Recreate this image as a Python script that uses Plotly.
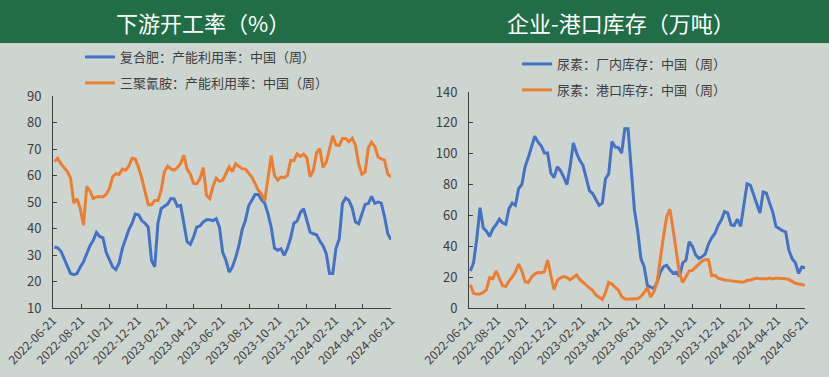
import pandas as pd
import plotly.graph_objects as go

# ---------------- data ----------------
dates = pd.date_range("2022-06-24", periods=105, freq="7D")

compound_fert = [33, 32.7, 31.5, 28.5, 26, 23, 22.6, 23, 25.5, 27.4, 30.5, 33.5, 35.5, 38.5, 37, 36.5,
                 31, 28, 25.5, 24.5, 27, 32.5, 36, 39.5, 42, 45.5, 45.2, 43, 42, 40.5, 28, 25.5, 42,
                 47.5, 48.4, 49.2, 51.3, 51.2, 48.4, 48.7, 42, 35, 34, 36.8, 40.6, 41, 42.5, 43.3,
                 43.3, 43, 43.7, 40.5, 31, 28, 23.5, 25.5, 29, 33.5, 39.5, 43, 48.5, 50.6, 52.8,
                 52.8, 50.8, 49.5, 45.5, 40.5, 32.6, 31.8, 32.4, 29.9, 32.5, 36.5, 42, 42.8, 46,
                 47.5, 42.5, 38.7, 38, 37.6, 35.3, 33.5, 30.5, 23, 23, 32.5, 36, 49.4, 51.5, 50.6,
                 47.8, 42.5, 41.8, 45.6, 49.1, 49.4, 52.1, 49.5, 50, 49.6, 44.5, 38, 35.8]

melamine = [65.3, 66.5, 64.5, 63, 61.5, 59, 49.6, 51.2, 47.5, 41.2, 55.9, 54.2, 51.3, 51.9, 52.1,
            51.9, 52.9, 55, 59.5, 60.7, 60.4, 62.4, 62, 63.5, 66.5, 66.2, 63, 59, 53.5, 49, 49,
            50.6, 50.6, 54.5, 61.5, 63.5, 62.5, 62, 63, 64.5, 67.6, 62.4, 60.5, 57, 56.9, 58.8,
            63, 52.5, 51.3, 56, 59, 57.8, 58.2, 60.5, 63.2, 61.5, 64.5, 63.5, 62.6, 62.4, 61,
            59.4, 57, 54.4, 53, 50.5, 59, 67.5, 60, 58.2, 59.4, 59.2, 60, 65.7, 65.7, 68.2, 67.2,
            68, 66.7, 59.5, 62, 68.5, 70.1, 63, 65, 70, 75, 71.5, 71.3, 74, 74, 72.8, 74, 71.5,
            64.5, 60.5, 61.3, 70.5, 72.6, 71, 67, 66.3, 65.8, 60.5, 59.4]

urea_factory = [24, 29.5, 45, 65, 52, 49.8, 46.4, 51.4, 54, 57.6, 55.3, 54.3, 64.4, 68, 66.6, 77.5,
                80, 91.5, 97.5, 104.5, 111.3, 107.6, 105.2, 100.5, 100.5, 87.5, 84.5, 91.5, 89,
                84.9, 80, 91.5, 107, 100.5, 95.7, 92.5, 83.8, 76, 74.2, 70, 66.5, 68, 83.8, 87,
                108, 104.3, 104, 100.5, 116.2, 116.2, 91.4, 63.3, 50, 32, 27, 14.7, 13.6, 12.5,
                16.5, 23, 26.8, 27.6, 24.8, 22.5, 23.2, 20.5, 29.2, 31, 43, 40, 34.5, 32.2, 33.2,
                35, 41.5, 45.5, 48.3, 53.5, 57, 62.5, 61.5, 54, 53.5, 57.5, 52.9, 65.5, 80.5, 79.7,
                73.5, 66.5, 61.5, 75.2, 74.5, 68, 62, 52.8, 51.3, 50.2, 49.3, 37.4, 32, 29.4, 22.5,
                26.6, 26.1]

urea_port = [15, 9.5, 9, 9, 10, 12, 19.7, 19, 24, 19.5, 14.5, 14, 17.5, 20, 23.5, 28.5, 24, 17,
             16.5, 20, 22, 23, 22.8, 23.5, 31, 21.2, 12, 17.9, 19.6, 20.4, 19.8, 18.2, 20, 21.5,
             18.5, 16.5, 14.8, 13, 11.5, 8.5, 7, 5.5, 10, 16.6, 15.5, 13.3, 11.5, 7.5, 6, 5.6, 6,
             6, 6, 7.5, 10, 13.2, 7.1, 10.4, 16.5, 32, 46, 59, 64, 51, 36.3, 22.3, 16.5, 20, 24,
             24.4, 26.6, 28.7, 30.4, 31.3, 31.3, 21, 21.2, 19.3, 18.6, 18.2, 17.9, 17.6, 17.2,
             16.9, 16.8, 16.8, 17.8, 18.2, 18.8, 19.4, 18.9, 18.9, 19, 19.4, 18.8, 19.4, 19.4,
             19.3, 19, 18.5, 17.2, 16, 15.5, 15.2, 14.7]

tick_labels = ["2022-06-21", "2022-08-21", "2022-10-21", "2022-12-21", "2023-02-21", "2023-04-21",
               "2023-06-21", "2023-08-21", "2023-10-21", "2023-12-21", "2024-02-21", "2024-04-21",
               "2024-06-21"]

titles = ["下游开工率（%）", "企业-港口库存（万吨）"]
names_left = ["复合肥：产能利用率：中国（周）", "三聚氰胺：产能利用率：中国（周）"]
names_right = ["尿素：厂内库存：中国（周）", "尿素：港口库存：中国（周）"]

# ---------------- styling ----------------
BG = "#CDD5D0"
GREEN = "#216D45"
BLUE = "#4472C4"
ORANGE = "#ED7D31"
AXIS = "#404040"
FONT = "Noto Sans CJK SC"
W, H = 829, 377

fig = go.Figure()
fig.add_trace(go.Scatter(x=dates, y=compound_fert, name=names_left[0], mode="lines",
                         line=dict(color=BLUE, width=3), xaxis="x", yaxis="y",
                         legend="legend", legendgroup="a"))
fig.add_trace(go.Scatter(x=dates, y=melamine, name=names_left[1], mode="lines",
                         line=dict(color=ORANGE, width=3), xaxis="x", yaxis="y",
                         legend="legend", legendgroup="b"))
fig.add_trace(go.Scatter(x=dates, y=urea_factory, name=names_right[0], mode="lines",
                         line=dict(color=BLUE, width=3), xaxis="x2", yaxis="y2",
                         legend="legend2", legendgroup="c"))
fig.add_trace(go.Scatter(x=dates, y=urea_port, name=names_right[1], mode="lines",
                         line=dict(color=ORANGE, width=3), xaxis="x2", yaxis="y2",
                         legend="legend2", legendgroup="d"))

def px_x(p):
    return p / W

def px_y(p):
    return 1 - p / H

xcommon = dict(type="date", range=["2022-06-21", "2024-06-21"], tickvals=tick_labels,
               ticktext=tick_labels, tickangle=-45, ticks="inside", ticklen=4, tickcolor=AXIS,
               showline=True, linecolor=AXIS, linewidth=1, showgrid=False, zeroline=False,
               automargin=False, tickfont=dict(size=12, color=AXIS, family=FONT))
ycommon = dict(ticks="inside", ticklen=4, tickcolor=AXIS, showline=True, linecolor=AXIS,
               linewidth=1, showgrid=False, zeroline=False, automargin=False,
               ticklabelstandoff=8, tickfont=dict(size=13, color=AXIS, family=FONT))

fig.update_layout(
    width=W, height=H, margin=dict(l=0, r=0, t=0, b=0, autoexpand=False),
    paper_bgcolor=BG, plot_bgcolor=BG,
    font=dict(family=FONT, color=AXIS),
    xaxis=dict(domain=[px_x(53), px_x(391)], anchor="y", **xcommon),
    yaxis=dict(domain=[px_y(308), px_y(96)], anchor="x", range=[10, 90], dtick=10, **ycommon),
    xaxis2=dict(domain=[px_x(469), px_x(805)], anchor="y2", **xcommon),
    yaxis2=dict(domain=[px_y(308), px_y(92)], anchor="x2", range=[0, 140], dtick=20, **ycommon),
    legend=dict(x=px_x(80), y=px_y(42), xanchor="left", yanchor="top", bgcolor="rgba(0,0,0,0)",
                font=dict(size=13, color=AXIS, family=FONT), tracegroupgap=6),
    legend2=dict(x=px_x(517), y=px_y(49), xanchor="left", yanchor="top", bgcolor="rgba(0,0,0,0)",
                 font=dict(size=13, color=AXIS, family=FONT), tracegroupgap=6),
    shapes=[dict(type="rect", xref="paper", yref="paper", x0=0, x1=1, y0=px_y(43), y1=1,
                 fillcolor=GREEN, line=dict(width=0), layer="below")],
    annotations=[
        dict(text=titles[0], xref="paper", yref="paper", x=px_x(203), y=px_y(22),
             xanchor="center", yanchor="middle",
             showarrow=False, font=dict(size=22, color="white", family=FONT)),
        dict(text=titles[1], xref="paper", yref="paper", x=px_x(621), y=px_y(22),
             xanchor="center", yanchor="middle",
             showarrow=False, font=dict(size=22, color="white", family=FONT)),
    ],
)

fig.write_html("out.html", config={"displayModeBar": False},
               post_script="document.body.style.margin='0';document.body.style.overflow='hidden';")
